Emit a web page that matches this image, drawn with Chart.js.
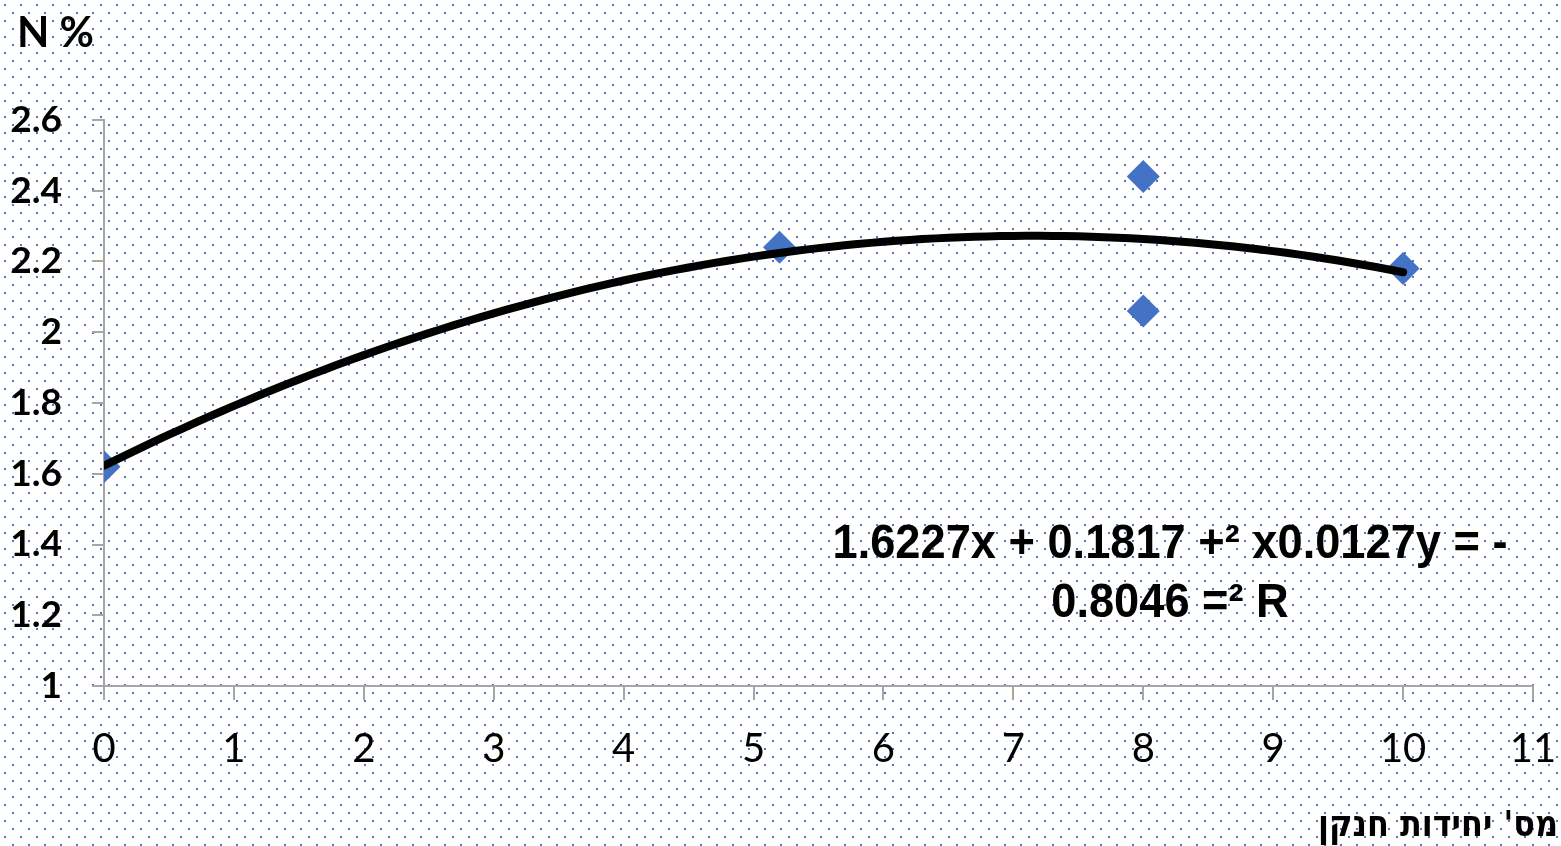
<!DOCTYPE html>
<html>
<head>
<meta charset="utf-8">
<script src="https://cdn.jsdelivr.net/npm/chart.js@4/dist/chart.umd.min.js"></script>
<style>
  html, body { margin: 0; padding: 0; background: #ffffff; }
  #wrap { width: 1561px; height: 846px; }
</style>
</head>
<body>
<div id="wrap"><canvas id="c" width="1561" height="846"></canvas></div>
<script>
// Measured points: nitrogen units vs. N %
const nitrogenUnits = [0, 5.2, 8, 8, 10];
const nitrogenPct   = [1.62, 2.24, 2.44, 2.06, 2.18];

// Quadratic trendline coefficients (a·x² + b·x + c) as printed on the chart
const trendCoeffs = [-0.0127, 0.1817, 1.6227];
const trendRange  = [0, 10];

// Axis ticks
const xTickValues = [0, 1, 2, 3, 4, 5, 6, 7, 8, 9, 10, 11];
const xTickLabels = ['0', '1', '2', '3', '4', '5', '6', '7', '8', '9', '10', '11'];
const yTickValues = [1, 1.2, 1.4, 1.6, 1.8, 2, 2.2, 2.4, 2.6];
const yTickLabels = ['1', '1.2', '1.4', '1.6', '1.8', '2', '2.2', '2.4', '2.6'];

// Texts
const yAxisTitle = 'N %';
const xAxisTitle = "מס' יחידות חנקן";
const equationLines = ['1.6227x + 0.1817 +\u00B2 x0.0127y = -', '0.8046 =\u00B2 R'];

// Trendline curve sampled along its x range
const trendPoints = [];
for (let i = 0; i <= 100; i++) {
  const x = trendRange[0] + (trendRange[1] - trendRange[0]) * i / 100;
  const y = trendCoeffs[0] * x * x + trendCoeffs[1] * x + trendCoeffs[2];
  trendPoints.push({ x, y });
}

const scatterPoints = nitrogenUnits.map((x, i) => ({ x, y: nitrogenPct[i] }));

// Dotted chart-area fill
const dottedBackground = {
  id: 'dottedBackground',
  beforeDraw(chart) {
    const ctx = chart.ctx;
    const tile = document.createElement('canvas');
    tile.width = 16; tile.height = 16;
    const t = tile.getContext('2d');
    t.fillStyle = '#4a78c2';
    t.fillRect(4, 4, 2, 2);
    t.fillRect(12, 12, 2, 2);
    ctx.save();
    ctx.fillStyle = '#ffffff';
    ctx.fillRect(0, 0, chart.width, chart.height);
    ctx.fillStyle = ctx.createPattern(tile, 'repeat');
    ctx.fillRect(0, 0, chart.width, chart.height);
    ctx.restore();
  }
};

// Text squeezed horizontally to the given width, anchored by align at x
function condensedText(ctx, text, x, y, width, align) {
  const w = ctx.measureText(text).width;
  const s = Math.min(1, width / w);
  ctx.save();
  ctx.translate(x, y);
  ctx.scale(s, 1);
  ctx.textAlign = align || 'center';
  ctx.fillText(text, 0, 0);
  ctx.restore();
}

// Axis titles and the trendline equation
const chartTexts = {
  id: 'chartTexts',
  afterDraw(chart) {
    const ctx = chart.ctx;
    ctx.save();
    ctx.fillStyle = '#000000';
    ctx.textBaseline = 'alphabetic';

    ctx.font = 'bold 42px Lato, "Open Sans", sans-serif';
    ctx.textAlign = 'left';
    ctx.direction = 'ltr';
    ctx.fillText(yAxisTitle, 17, 47);

    ctx.font = 'bold 49px "Liberation Sans Narrow", "Liberation Sans", sans-serif';
    const lineW0 = 675;
    const w0 = ctx.measureText(equationLines[0]).width;
    const squeeze = Math.min(1, lineW0 / w0);
    condensedText(ctx, equationLines[0], 1170, 558, lineW0, 'center');
    condensedText(ctx, equationLines[1], 1170, 617, ctx.measureText(equationLines[1]).width * squeeze, 'center');

    ctx.font = 'bold 36px "DejaVu Sans", "Liberation Sans", sans-serif';
    ctx.direction = 'rtl';
    condensedText(ctx, xAxisTitle, 1558, 836, 240, 'right');
    ctx.restore();
  }
};

function start() {
  new Chart(document.getElementById('c'), {
    type: 'scatter',
    data: {
      datasets: [
        {
          type: 'line',
          label: 'Poly. (N %)',
          data: trendPoints,
          borderColor: '#000000',
          borderWidth: 8,
          borderCapStyle: 'round',
          borderJoinStyle: 'round',
          pointRadius: 0,
          fill: false,
          tension: 0,
          order: 0
        },
        {
          label: 'N %',
          data: scatterPoints,
          pointStyle: 'rectRot',
          pointRadius: 16.5,
          pointHoverRadius: 16.5,
          backgroundColor: '#4472c4',
          borderColor: '#4472c4',
          borderWidth: 0,
          showLine: false,
          order: 1
        }
      ]
    },
    options: {
      responsive: false,
      animation: false,
      events: [],
      layout: { padding: { top: 120, right: 28, left: 0, bottom: 0 } },
      plugins: {
        legend: { display: false },
        tooltip: { enabled: false }
      },
      scales: {
        x: {
          type: 'linear',
          min: 0,
          max: 11,
          afterFit(scale) {
            scale.height = 160;
            scale.paddingLeft = 0;
            scale.paddingRight = 0;
          },
          afterBuildTicks(scale) { scale.ticks = xTickValues.map(v => ({ value: v })); },
          border: { display: true, color: '#a6a6a6', width: 2 },
          grid: { display: true, drawOnChartArea: false, drawTicks: true, tickLength: 14, color: '#a6a6a6', lineWidth: 2 },
          ticks: {
            autoSkip: false,
            maxRotation: 0,
            padding: 25,
            color: '#000000',
            font: { family: 'Lato, "Open Sans", sans-serif', size: 40 },
            callback(value) {
              const i = xTickValues.indexOf(value);
              return i >= 0 ? xTickLabels[i] : '';
            }
          }
        },
        y: {
          type: 'linear',
          min: 1,
          max: 2.6,
          afterFit(scale) {
            scale.width = 104;
            scale.paddingTop = 0;
            scale.paddingBottom = 0;
          },
          afterBuildTicks(scale) { scale.ticks = yTickValues.map(v => ({ value: v })); },
          border: { display: true, color: '#a6a6a6', width: 2 },
          grid: { display: true, drawOnChartArea: false, drawTicks: true, tickLength: 12, color: '#a6a6a6', lineWidth: 2 },
          ticks: {
            autoSkip: false,
            padding: 30,
            color: '#000000',
            font: { family: 'Lato, "Open Sans", sans-serif', size: 37, weight: 'bold' },
            callback(value) {
              const i = yTickValues.findIndex(v => Math.abs(v - value) < 1e-9);
              return i >= 0 ? yTickLabels[i] : '';
            }
          }
        }
      }
    },
    plugins: [dottedBackground, chartTexts]
  });
}

if (document.fonts && document.fonts.load) {
  Promise.all([
    document.fonts.load('bold 42px Lato'),
    document.fonts.load('40px Lato'),
    document.fonts.load('bold 49px "Liberation Sans Narrow"'),
    document.fonts.load('bold 36px "DejaVu Sans"')
  ]).then(start, start);
} else {
  start();
}
</script>
</body>
</html>
